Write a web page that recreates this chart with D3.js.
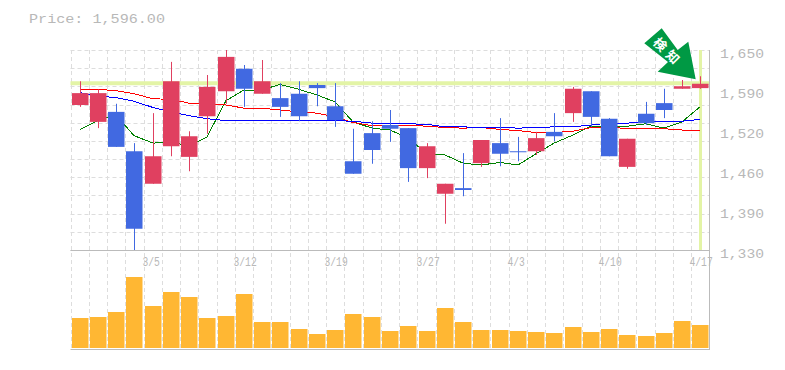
<!DOCTYPE html>
<html>
<head>
<meta charset="utf-8">
<script src="https://cdn.jsdelivr.net/npm/d3@7"></script>
<style>
  html, body { margin: 0; padding: 0; background: #fff; }
  svg { display: block; }
  text { font-family: "Liberation Mono", monospace; fill: #b8b8b8; }
</style>
</head>
<body>
<div id="chart"></div>
<script>
const dates = ['2/27','2/28','3/1','3/2','3/5','3/6','3/7','3/8','3/9','3/12','3/13','3/14','3/15','3/16','3/19','3/20','3/22','3/23','3/26','3/27','3/28','3/29','3/30','4/2','4/3','4/4','4/5','4/6','4/9','4/10','4/11','4/12','4/13','4/16','4/17'];
const dateTicks = ['3/5','3/12','3/19','3/27','4/3','4/10','4/17'];
const priceTicks = [1650, 1590, 1520, 1460, 1390, 1330];

const opens  = [1562,1535,1551,1488,1436,1496,1479,1544,1584,1620,1580,1573,1580,1594,1560,1472,1517,1530,1525,1461,1420,1429,1469,1501,1488,1488,1519,1549,1584,1540,1463,1548,1565,1588,1589];
const closes = [1581,1581,1495,1364,1480,1600,1512,1591,1639,1588,1600,1559,1544,1589,1538,1452,1490,1524,1461,1496,1436,1426,1506,1484,1487,1509,1512,1588,1543,1480,1508,1533,1554,1592,1596];
const highs  = [1600,1587,1564,1501,1549,1631,1520,1610,1650,1626,1634,1597,1600,1597,1597,1524,1536,1554,1525,1501,1436,1485,1506,1541,1511,1519,1549,1591,1584,1541,1508,1567,1588,1602,1608];
const lows   = [1559,1525,1495,1330,1436,1480,1456,1516,1564,1559,1580,1543,1536,1560,1527,1452,1468,1503,1439,1445,1372,1416,1463,1464,1472,1482,1504,1535,1527,1480,1460,1530,1541,1588,1588];

const maShort = [1523,1537,1546,1513,1501,1503,1496,1511,1569,1586,1586,1595,1587,1578,1567,1535,1525,1522,1509,1484,1482,1469,1466,1470,1466,1484,1501,1514,1528,1526,1528,1532,1525,1535,1559];
const maMid   = [1586,1587,1585,1580,1572,1571,1565,1563,1562,1557,1557,1554,1551,1549,1543,1534,1529,1529,1530,1528,1526,1525,1526,1523,1521,1518,1518,1520,1526,1527,1524,1525,1524,1522,1522];
const maLong  = [1582,1576,1574,1568,1558,1551,1545,1540,1537,1537,1537,1538,1538,1537,1537,1536,1533,1533,1532,1531,1527,1527,1526,1526,1525,1526,1527,1527,1530,1533,1533,1535,1536,1536,1539];

const volumes = [60,62,72,142,84,112,102,60,64,108,52,52,38,28,36,68,62,34,44,34,80,52,36,36,34,32,30,42,32,38,26,24,30,54,46];

const lastPrice = 1596;

const width = 785, height = 370;
const x0 = 70.5, x1 = 709.5, y0 = 50, priceBottom = 250, volBottom = 350;

const svg = d3.select('#chart').append('svg')
  .attr('width', width)
  .attr('height', height);

const sx = d3.scaleBand().domain(dates).range([x0, x1]);
const sy = d3.scaleLinear().domain([1330, 1650]).range([priceBottom, y0]);
const sv = d3.scaleLinear().domain([0, 196]).range([volBottom - 2, priceBottom]);
const cx = d => Math.round(sx(d) + sx.bandwidth() / 2);

// grid
const grid = svg.append('g')
  .attr('stroke', '#ddd')
  .attr('stroke-dasharray', '4,3');

grid.selectAll('.v')
  .data(dates)
  .enter().append('line')
    .attr('class', 'v')
    .attr('x1', d => Math.round(sx(d)) + 0.5)
    .attr('x2', d => Math.round(sx(d)) + 0.5)
    .attr('y1', y0)
    .attr('y2', volBottom);

grid.selectAll('.h')
  .data(d3.range(12))
  .enter().append('line')
    .attr('class', 'h')
    .attr('x1', x0)
    .attr('x2', x1)
    .attr('y1', i => Math.round(y0 + i * (priceBottom - y0) / 11) + 0.5)
    .attr('y2', i => Math.round(y0 + i * (priceBottom - y0) / 11) + 0.5);

// highlight of the last price and the last day
svg.append('line')
  .attr('x1', x0).attr('x2', x1)
  .attr('y1', sy(lastPrice) - 0.5).attr('y2', sy(lastPrice) - 0.5)
  .attr('stroke', '#e3f4a6')
  .attr('stroke-width', 4);

svg.append('line')
  .attr('x1', cx(dates[34]) + 0.5).attr('x2', cx(dates[34]) + 0.5)
  .attr('y1', y0).attr('y2', priceBottom)
  .attr('stroke', '#e3f4a6')
  .attr('stroke-width', 3);

// frame
const frame = svg.append('g').attr('stroke', '#bbb').attr('fill', 'none');
frame.append('line').attr('x1', x0).attr('x2', x1).attr('y1', 250.5).attr('y2', 250.5);
frame.append('line').attr('x1', x0).attr('x2', x1).attr('y1', 349.5).attr('y2', 349.5);
frame.append('line').attr('x1', 709.5).attr('x2', 709.5).attr('y1', y0).attr('y2', 350);

// moving averages
const ma = d3.line()
  .x((v, i) => cx(dates[i]))
  .y(v => sy(v));

[[maShort, 'green'], [maMid, 'red'], [maLong, 'blue']].forEach(([values, color]) => {
  svg.append('path')
    .attr('d', ma(values))
    .attr('fill', 'none')
    .attr('stroke', color)
    .attr('stroke-width', 1)
    .attr('shape-rendering', 'crispEdges');
});

// candles
const candleColor = i => closes[i] >= opens[i] ? '#e04060' : '#4169e1';
const candles = svg.append('g');

candles.selectAll('.wick')
  .data(dates)
  .enter().append('line')
    .attr('class', 'wick')
    .attr('x1', d => cx(d) + 0.5)
    .attr('x2', d => cx(d) + 0.5)
    .attr('y1', (d, i) => sy(highs[i]))
    .attr('y2', (d, i) => sy(lows[i]))
    .attr('stroke', (d, i) => candleColor(i));

candles.selectAll('.body')
  .data(dates)
  .enter().append('rect')
    .attr('class', 'body')
    .attr('x', d => cx(d) - 8)
    .attr('width', 16.5)
    .attr('y', (d, i) => sy(Math.max(opens[i], closes[i])))
    .attr('height', (d, i) => Math.max(1, sy(Math.min(opens[i], closes[i])) - sy(Math.max(opens[i], closes[i]))))
    .attr('fill', (d, i) => candleColor(i));

// volume
svg.append('g').selectAll('rect')
  .data(dates)
  .enter().append('rect')
    .attr('x', d => cx(d) - 8)
    .attr('width', 16.5)
    .attr('y', (d, i) => sv(volumes[i]))
    .attr('height', (d, i) => sv(0) - sv(volumes[i]))
    .attr('fill', '#ffb733');

// labels, stretched to the wide bitmap look of the original font
svg.append('text')
  .attr('x', 29).attr('y', 23)
  .attr('textLength', 136)
  .attr('lengthAdjust', 'spacingAndGlyphs')
  .style('font-size', '13.5px')
  .text('Price: ' + d3.format(',.2f')(lastPrice));

svg.append('g').selectAll('text')
  .data(priceTicks)
  .enter().append('text')
    .attr('x', 720)
    .attr('y', (d, i) => y0 + i * 40 + 7.5)
    .attr('textLength', 44)
    .attr('lengthAdjust', 'spacingAndGlyphs')
    .style('font-size', '13.5px')
    .text(d3.format(','));

svg.append('g').selectAll('text')
  .data(dateTicks)
  .enter().append('text')
    .attr('x', d => cx(d) - 10.5)
    .attr('y', 266)
    .attr('textLength', d => d.length * 5.8)
    .attr('lengthAdjust', 'spacingAndGlyphs')
    .style('font-size', '12px')
    .text(d => d);

// signal arrow
svg.append('polygon')
  .attr('points', '661.7,28.3 677.7,50 688.3,41.7 695.7,79.3 657.7,71.7 668,62 644.3,43.3')
  .attr('fill', '#009944');

[['検', 660, 44.5], ['知', 672.5, 57]].forEach(([ch, tx, ty]) => {
  svg.append('text')
    .attr('transform', `translate(${tx},${ty}) rotate(45)`)
    .attr('text-anchor', 'middle')
    .attr('dy', '0.35em')
    .style('font-family', '"Noto Sans CJK JP"')
    .style('font-size', '13px')
    .style('font-weight', 'bold')
    .style('fill', '#fff')
    .text(ch);
});
</script>
</body>
</html>
